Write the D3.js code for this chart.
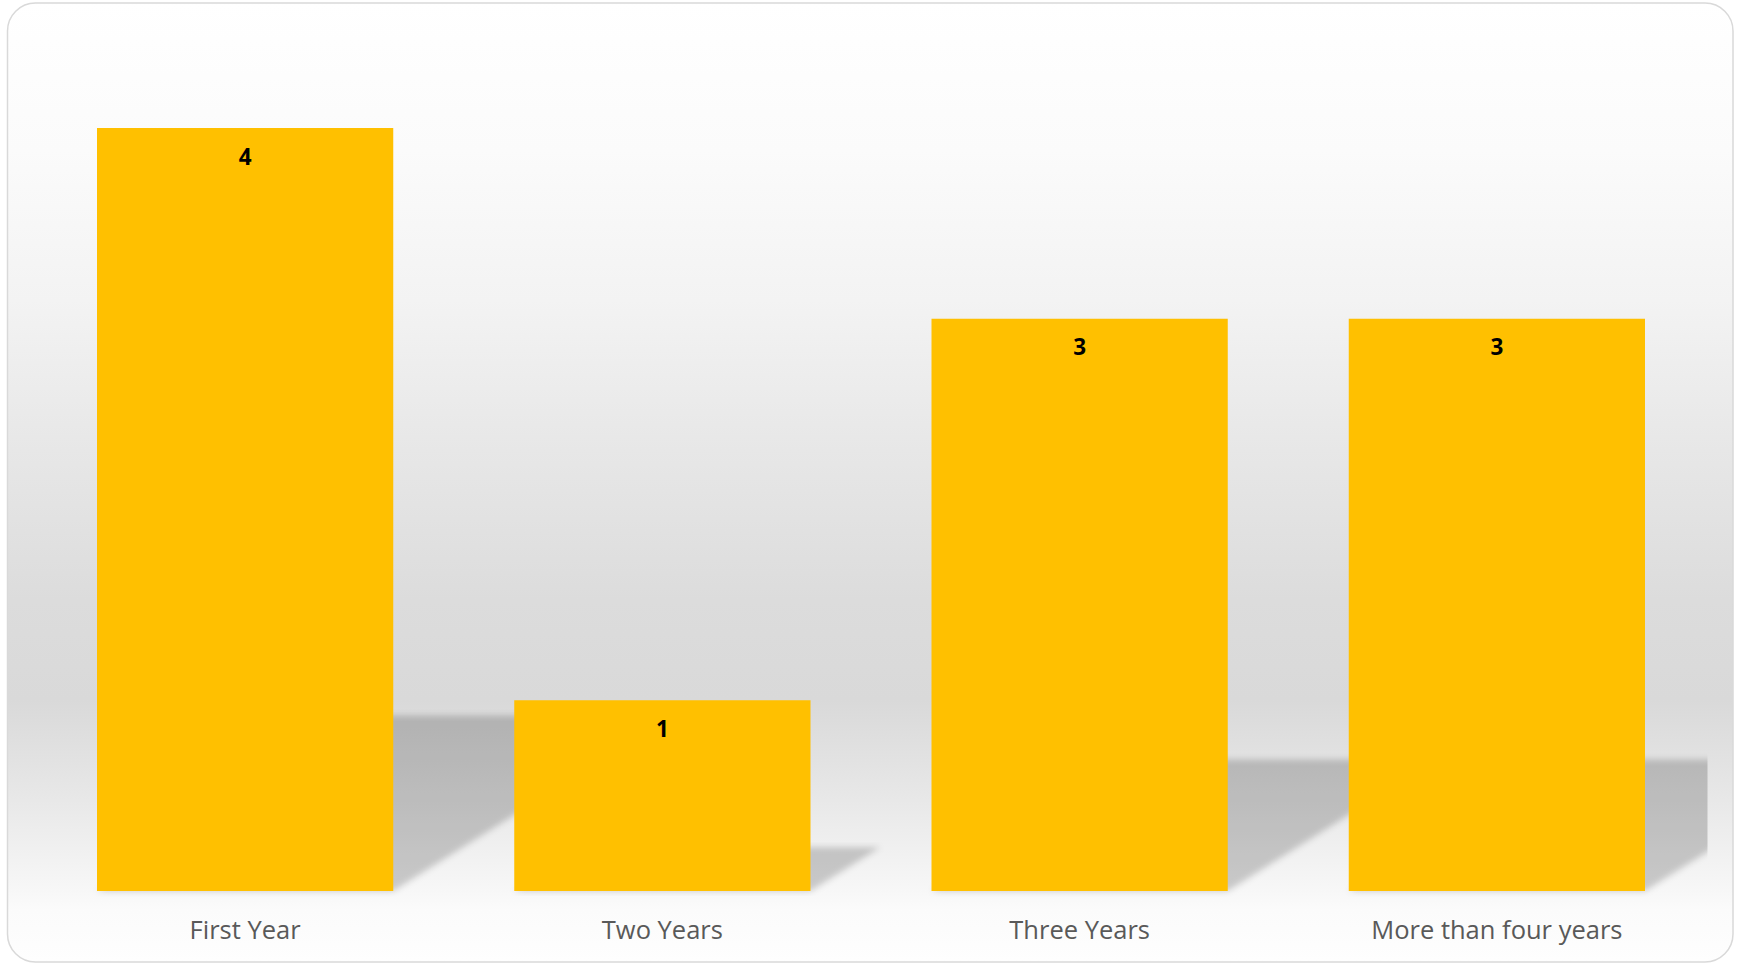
<!DOCTYPE html>
<html>
<head>
<meta charset="utf-8">
<script src="https://cdn.jsdelivr.net/npm/d3@7"></script>
<style>
  html, body { margin: 0; padding: 0; background: #ffffff; }
  svg { display: block; }
</style>
</head>
<body>
<svg id="chart" width="1737" height="965"></svg>
<script>
// ---- data ----
const categories = ["First Year", "Two Years", "Three Years", "More than four years"];
const values = [4, 1, 3, 3];
const valueLabels = ["4", "1", "3", "3"];

// ---- layout ----
const W = 1737, H = 965;
const plot = { left: 36.5, right: 1705.5, top: 20, bottom: 891 };
const svg = d3.select("#chart");
const defs = svg.append("defs");

// background gradient
const bg = defs.append("linearGradient").attr("id", "bgGrad")
  .attr("gradientUnits", "userSpaceOnUse")
  .attr("x1", 0).attr("y1", 3).attr("x2", 0).attr("y2", 962);
[[3, "#ffffff"], [150, "#fbfbfb"], [300, "#f3f3f3"], [450, "#e7e7e7"], [600, "#dcdcdc"],
 [700, "#d9d9d9"], [800, "#e8e8e8"], [885, "#f6f6f6"], [910, "#fbfbfb"], [962, "#fefefe"]]
  .forEach(([y, c]) => bg.append("stop").attr("offset", ((y - 3) / 959)).attr("stop-color", c));

defs.append("filter").attr("id", "blur").attr("x", "-10%").attr("y", "-10%").attr("width", "120%").attr("height", "120%")
  .append("feGaussianBlur").attr("stdDeviation", 3);

defs.append("clipPath").attr("id", "plotClip")
  .append("rect").attr("x", plot.left).attr("y", 0).attr("width", plot.right - plot.left + 2).attr("height", plot.bottom + 6);

// chart frame
svg.append("rect")
  .attr("x", 7.5).attr("y", 3).attr("width", 1725.5).attr("height", 959)
  .attr("rx", 28).attr("ry", 28)
  .attr("fill", "url(#bgGrad)")
  .attr("stroke", "#d9d9d9").attr("stroke-width", 1.5);

// scales
const x = d3.scaleBand().domain(categories).range([plot.left, plot.right])
  .paddingInner(0.29).paddingOuter(0.145);
const y = d3.scaleLinear().domain([0, 4]).range([plot.bottom, 128]);

// perspective shadows
const shadowRatio = 0.23, skew = 1.59;
svg.append("g").attr("clip-path", "url(#plotClip)")
  .selectAll("path").data(values).join("path")
  .attr("d", (d, i) => {
    const x0 = x(categories[i]), x1 = x0 + x.bandwidth();
    const yb = y(0);
    const hs = (y(0) - y(d)) * shadowRatio;
    const ys = yb - hs, s = hs * skew;
    return `M${x0},${yb}L${x1},${yb}L${x1 + s},${ys}L${x0 + s},${ys}Z`;
  })
  .attr("fill", "#000").attr("fill-opacity", 0.19)
  .attr("filter", "url(#blur)");

// bars
svg.append("g").selectAll("rect").data(values).join("rect")
  .attr("x", (d, i) => x(categories[i]))
  .attr("y", d => y(d))
  .attr("width", x.bandwidth())
  .attr("height", d => y(0) - y(d))
  .attr("fill", "#FFC000");

// value labels
svg.append("g").selectAll("text").data(values).join("text")
  .attr("x", (d, i) => x(categories[i]) + x.bandwidth() / 2)
  .attr("y", d => y(d) + 36.6)
  .attr("text-anchor", "middle")
  .attr("font-family", "'Open Sans', sans-serif")
  .attr("font-weight", 700)
  .attr("font-size", 22.5)
  .attr("fill", "#000")
  .text((d, i) => valueLabels[i]);

// category axis
const xAxis = d3.axisBottom(x).tickSize(0).tickPadding(0);
const gx = svg.append("g").attr("transform", `translate(0,${plot.bottom})`).call(xAxis);
gx.select(".domain").remove();
gx.selectAll("text")
  .attr("y", 47.7).attr("dy", null)
  .attr("font-family", "'Open Sans', sans-serif")
  .attr("font-size", 25.5)
  .attr("fill", "#595959");
</script>
</body>
</html>
